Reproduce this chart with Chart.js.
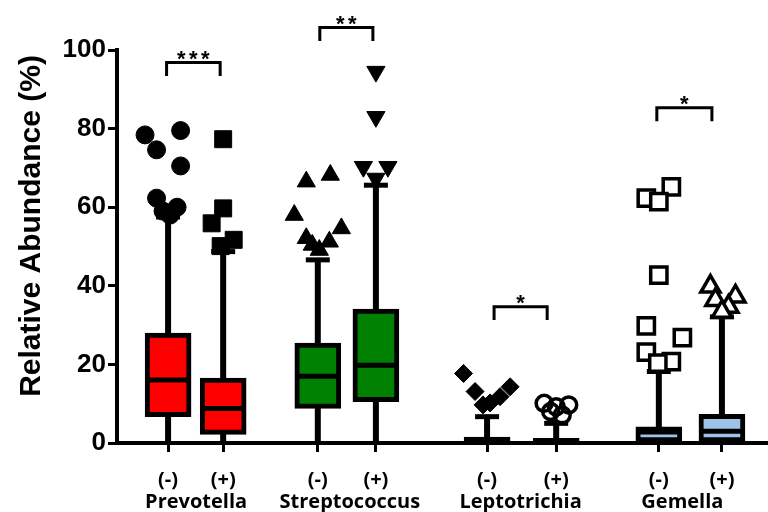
<!DOCTYPE html>
<html>
<head>
<meta charset="utf-8">
<script src="https://cdn.jsdelivr.net/npm/chart.js@4.4.1/dist/chart.umd.min.js"></script>
<style>
  html, body { margin: 0; padding: 0; background: #fff; overflow: hidden; }
  #wrap { width: 768px; height: 512px; position: relative; }
  canvas { display: block; }
</style>
</head>
<body>
<div id="wrap"><canvas id="chart"></canvas></div>
<script>
// values, relative abundance in %
const genera = ['Prevotella', 'Streptococcus', 'Leptotrichia', 'Gemella'];
const groupLabels = ['(-)', '(+)', '(-)', '(+)', '(-)', '(+)', '(-)', '(+)'];

// one entry per box: Prev -, Prev +, Strep -, Strep +, Lepto -, Lepto +, Gem -, Gem +
const whiskerLow = [0, 0, 0, 0, 0, 0, 0, 0];
const q1 = [6.7, 2.2, 8.8, 10.5, 0, 0, 0.3, 0.3];
const median = [16, 8.8, 17, 19.8, 0.4, 0.3, 2.8, 3];
const q3 = [28, 16.5, 25.4, 34.1, 1.5, 1.2, 4.1, 7.3];
const whiskerHigh = [57.5, 48.7, 46.6, 65.6, 6.7, 5, 18.2, 32.1];

const outPrevNeg = [78.4, 79.5, 74.6, 70.5, 62.3, 59, 60, 58];
const outPrevPos = [77.3, 59.7, 55.9, 51.7, 50.1];
const outStrepNeg = [66.5, 68.2, 58, 54.6, 52.1, 51.2, 50.4, 49.1];
const outStrepPos = [94.5, 83, 70.3, 70.3, 67.3];
const outLeptoNeg = [17.7, 13.1, 14.3, 11.8, 9.7, 10.2];
const outLeptoPos = [10.1, 9.2, 9.7, 8, 7.1];
const outGemNeg = [62.3, 65.2, 61.4, 42.7, 29.8, 26.8, 23.1, 20.7, 20.3];
const outGemPos = [39.8, 37.3, 36.4, 34.7, 33.4];
const outliers = [outPrevNeg, outPrevPos, outStrepNeg, outStrepPos,
                  outLeptoNeg, outLeptoPos, outGemNeg, outGemPos];

const sigLabels = ['***', '**', '*', '*'];
const sigHeight = [96.8, 105.7, 34.7, 85.3];

// layout (x axis runs 0..13)
const boxX = [1.02, 2.12, 4.01, 5.17, 7.39, 8.77, 10.82, 12.08];
const nameX = [1.58, 4.65, 8.06, 11.29];
const bracketX = [[0.99, 2.06], [4.05, 5.11], [7.53, 8.59], [10.78, 11.88]];
const jitter = [
  [-0.46, 0.25, -0.23, 0.25, -0.23, -0.1, 0.18, 0.04],
  [0, 0, -0.23, 0.21, -0.05],
  [-0.23, 0.25, -0.47, 0.47, -0.23, 0.23, -0.11, 0.03],
  [0, 0, -0.25, 0.24, 0],
  [-0.47, -0.24, 0.46, 0.26, -0.08, 0.06],
  [-0.24, 0, 0.25, -0.11, 0.12],
  [-0.25, 0.25, 0, 0, -0.25, 0.47, -0.25, 0.25, -0.02],
  [-0.23, 0.27, -0.13, 0.13, 0]
];
const boxFill = ['#ff0000', '#ff0000', '#008000', '#008000', '#ffffff', '#ffffff', '#9dc3e6', '#9dc3e6'];
const markers = [
  {style: 'circle', r: 9, fill: '#000', rot: 0},
  {style: 'rect', r: 12, fill: '#000', rot: 0},
  {style: 'triangle', r: 10.5, fill: '#000', rot: 0},
  {style: 'triangle', r: 10.5, fill: '#000', rot: 180},
  {style: 'rectRot', r: 9, fill: '#000', rot: 0},
  {style: 'circle', r: 8, fill: 'rgba(255,255,255,0)', rot: 0},
  {style: 'rect', r: 11.5, fill: '#fff', rot: 0},
  {style: 'triangle', r: 11, fill: '#fff', rot: 0}
];

const ARIAL = "'Liberation Sans', Arial, sans-serif";
const LABEL_FONT = "'Open Sans', sans-serif";

const outlierSets = outliers.map((vals, i) => ({
  type: 'scatter',
  order: 1,
  data: vals.map((v, k) => ({x: boxX[i] + jitter[i][k], y: v})),
  pointStyle: markers[i].style,
  pointRadius: markers[i].r,
  pointRotation: markers[i].rot,
  backgroundColor: markers[i].fill,
  borderColor: '#000',
  borderWidth: markers[i].fill === '#000' ? 1 : 3.5
}));

const bracketSets = bracketX.map((b, g) => ({
  type: 'line',
  order: 0,
  clip: false,
  data: [
    {x: b[0], y: sigHeight[g] - 3.4},
    {x: b[0], y: sigHeight[g]},
    {x: b[1], y: sigHeight[g]},
    {x: b[1], y: sigHeight[g] - 3.4}
  ],
  borderColor: '#000',
  borderWidth: 3,
  borderJoinStyle: 'miter',
  pointRadius: 0,
  tension: 0,
  fill: false
}));

const boxSet = {
  type: 'bar',
  order: 2,
  data: boxX.map((pos, i) => ({x: pos, y: [q1[i], q3[i]]})),
  backgroundColor: boxFill,
  borderColor: '#000',
  borderWidth: 5,
  borderSkipped: false,
  barThickness: 46
};

const boxPlot = {
  id: 'boxPlot',
  beforeDatasetsDraw(chart) {
    const {ctx, scales: {x, y}} = chart;
    ctx.save();
    ctx.strokeStyle = '#000';
    boxX.forEach((pos, i) => {
      const px = x.getPixelForValue(pos);
      const top = y.getPixelForValue(whiskerHigh[i]);
      ctx.lineWidth = 6;
      ctx.beginPath();
      ctx.moveTo(px, y.getPixelForValue(whiskerLow[i]));
      ctx.lineTo(px, top);
      ctx.stroke();
      ctx.lineWidth = 5;
      ctx.beginPath();
      ctx.moveTo(px - 12, top);
      ctx.lineTo(px + 12, top);
      ctx.stroke();
    });
    ctx.restore();
  },
  afterDatasetDraw(chart, args) {
    if (args.meta.type !== 'bar') return;
    const {ctx, scales: {x, y}} = chart;
    ctx.save();
    ctx.strokeStyle = '#000';
    ctx.lineWidth = 5;
    boxX.forEach((pos, i) => {
      const px = x.getPixelForValue(pos);
      const py = y.getPixelForValue(median[i]);
      ctx.beginPath();
      ctx.moveTo(px - 20, py);
      ctx.lineTo(px + 20, py);
      ctx.stroke();
    });
    ctx.restore();
  },
  afterDraw(chart) {
    const {ctx, scales: {x, y}} = chart;
    ctx.save();
    ctx.fillStyle = '#000';
    // significance stars
    ctx.font = 'bold 22px ' + ARIAL;
    ctx.textAlign = 'center';
    ctx.textBaseline = 'alphabetic';
    sigLabels.forEach((s, g) => {
      const cx = x.getPixelForValue((bracketX[g][0] + bracketX[g][1]) / 2);
      const by = y.getPixelForValue(sigHeight[g]) + 3;
      const n = s.length;
      for (let k = 0; k < n; k++) {
        ctx.fillText('*', cx + (k - (n - 1) / 2) * 12, by);
      }
    });
    // genus names
    ctx.font = 'bold 20px ' + LABEL_FONT;
    ctx.textBaseline = 'middle';
    genera.forEach((name, g) => {
      ctx.fillText(name, x.getPixelForValue(nameX[g]), 502);
    });
    // y axis title
    ctx.translate(32, 226);
    ctx.rotate(-Math.PI / 2);
    ctx.font = 'bold 30px ' + ARIAL;
    ctx.fillText('Relative Abundance (%)', 0, 0);
    ctx.restore();
  }
};

new Chart(document.getElementById('chart'), {
  type: 'bar',
  data: {datasets: [...bracketSets, ...outlierSets, boxSet]},
  plugins: [boxPlot],
  options: {
    responsive: true,
    maintainAspectRatio: false,
    animation: false,
    layout: {autoPadding: false, padding: {top: 50, left: 0, right: 0, bottom: 0}},
    plugins: {legend: {display: false}, tooltip: {enabled: false}},
    scales: {
      x: {
        type: 'linear',
        offset: false,
        min: 0,
        max: 13,
        afterBuildTicks(scale) {
          scale.ticks = boxX.map(v => ({value: v}));
        },
        afterFit(scale) { scale.height = 69; },
        grid: {offset: false, drawOnChartArea: false, drawTicks: true, tickLength: 9, tickWidth: 3, tickColor: '#000'},
        border: {display: true, color: '#000', width: 4},
        ticks: {
          autoSkip: false,
          maxRotation: 0,
          padding: 16,
          color: '#000',
          font: {family: LABEL_FONT, size: 20, weight: 'bold'},
          callback: (v, i) => groupLabels[i]
        }
      },
      y: {
        min: 0,
        max: 100,
        afterFit(scale) { scale.width = 117; },
        grid: {drawOnChartArea: false, drawTicks: true, tickLength: 9, tickWidth: 3, tickColor: '#000'},
        border: {display: true, color: '#000', width: 4},
        ticks: {
          stepSize: 20,
          padding: 2,
          color: '#000',
          font: {family: ARIAL, size: 26, weight: 'bold'}
        }
      }
    }
  }
});
</script>
</body>
</html>
